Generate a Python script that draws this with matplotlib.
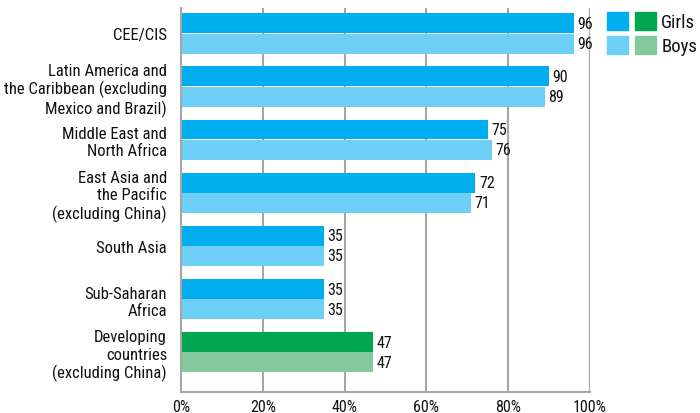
import matplotlib
matplotlib.use("Agg")
import matplotlib.pyplot as plt
from matplotlib.patches import Patch
from matplotlib.legend_handler import HandlerTuple
import numpy as np

plt.rcParams['font.family'] = ['Roboto Condensed', 'Archivo Narrow', 'DejaVu Sans']

categories = [
    "CEE/CIS",
    "Latin America and\nthe Caribbean (excluding\nMexico and Brazil)",
    "Middle East and\nNorth Africa",
    "East Asia and\nthe Pacific\n(excluding China)",
    "South Asia",
    "Sub-Saharan\nAfrica",
    "Developing\ncountries\n(excluding China)",
]
girls = [96, 90, 75, 72, 35, 35, 47]
boys = [96, 89, 76, 71, 35, 35, 47]
xticks = [0, 20, 40, 60, 80, 100]
xticklabels = ["0%", "20%", "40%", "60%", "80%", "100%"]

girls_colors = ["#00AEEF"] * 6 + ["#00A651"]
boys_colors = ["#6DCFF6"] * 6 + ["#84C99D"]
text_color = "#111111"
grid_color = "#A6A6A6"

fig = plt.figure(figsize=(7.0, 4.14), dpi=100)
ax = fig.add_axes([181 / 700, 1 - 393 / 414, (590 - 181) / 700, (393 - 9) / 414])

y = np.arange(len(categories))
h = 0.375
ax.barh(y - h / 2 - 0.005, girls, height=h, color=girls_colors, zorder=2)
ax.barh(y + h / 2 + 0.005, boys, height=h, color=boys_colors, zorder=2)

for yi, g, b in zip(y, girls, boys):
    ax.annotate(str(g), (g, yi - h / 2), xytext=(2.5, 0), textcoords="offset points",
                va="center", ha="left", fontsize=11.5, color=text_color)
    ax.annotate(str(b), (b, yi + h / 2), xytext=(2.5, 0), textcoords="offset points",
                va="center", ha="left", fontsize=11.5, color=text_color)

ax.set_xlim(0, 100)
ax.set_ylim(6.75, -0.48)
ax.set_xticks(xticks)
ax.set_xticklabels(xticklabels, fontsize=11.5, color=text_color)
ax.set_yticks(y)
ax.set_yticklabels(categories, fontsize=12, color=text_color, linespacing=1.18)
ax.tick_params(axis="y", length=0, pad=10)
ax.tick_params(axis="x", length=0, pad=5)

for x in xticks[1:]:
    ax.axvline(x, color=grid_color, lw=1.5, zorder=1)
for s in ["top", "right"]:
    ax.spines[s].set_visible(False)
for s in ["left", "bottom"]:
    ax.spines[s].set_color(grid_color)
    ax.spines[s].set_linewidth(1.5)

handles = [
    (Patch(color="#00AEEF"), Patch(color="#00A651")),
    (Patch(color="#6DCFF6"), Patch(color="#84C99D")),
]
leg = fig.legend(handles, ["Girls", "Boys"],
                 handler_map={tuple: HandlerTuple(ndivide=None, pad=0.4)},
                 loc="upper left", bbox_to_anchor=(607 / 700, 1 - 13 / 414),
                 frameon=False, fontsize=13.5, handlelength=2.6, handleheight=1.1,
                 handletextpad=0.3, labelspacing=0.25, borderpad=0, borderaxespad=0,
                 labelcolor=text_color)

fig.savefig("out.png", dpi=100)
